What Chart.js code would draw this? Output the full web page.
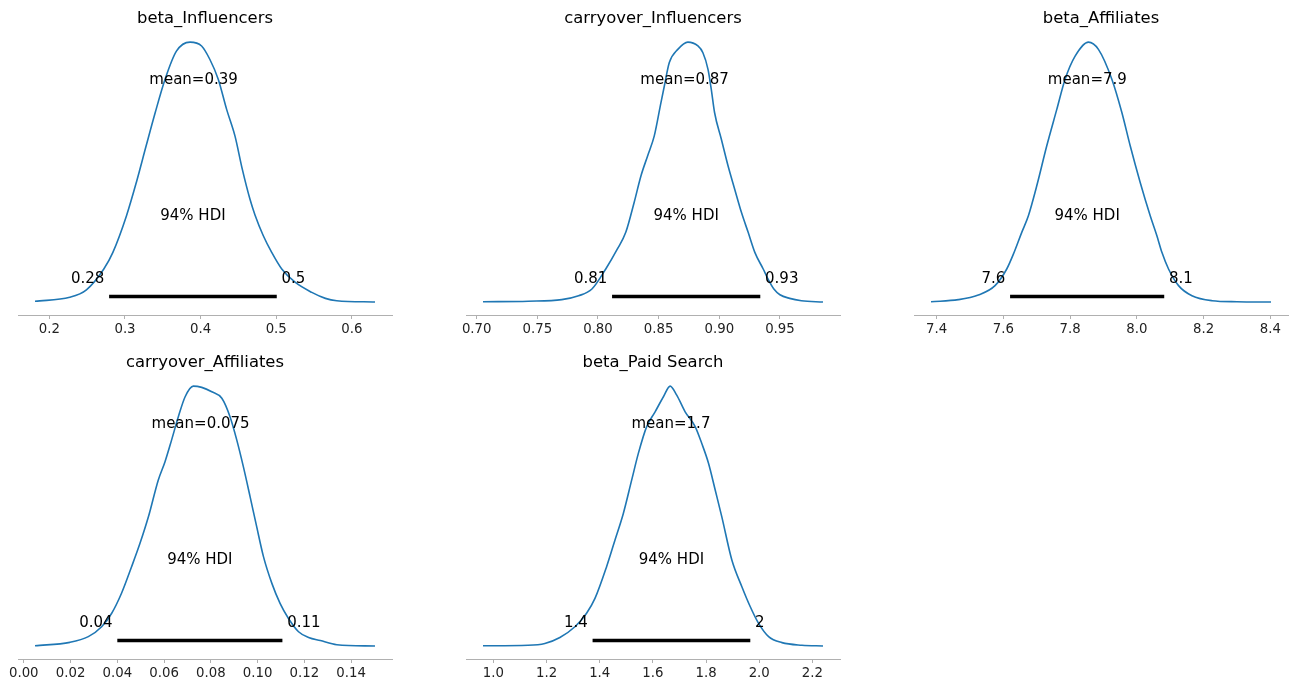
<!DOCTYPE html>
<html>
<head>
<meta charset="utf-8">
<script src="https://cdn.jsdelivr.net/npm/chart.js@4.4.1/dist/chart.umd.min.js"></script>
<style>
  html, body { margin: 0; padding: 0; background: #fff; width: 1298px; height: 683px; overflow: hidden; }
  canvas { position: absolute; }
</style>
</head>
<body>
<canvas id="p0"></canvas>
<canvas id="p1"></canvas>
<canvas id="p2"></canvas>
<canvas id="p3"></canvas>
<canvas id="p4"></canvas>
<script>
// posterior densities, heights relative to each panel's peak

const titles = ['beta_Influencers', 'carryover_Influencers', 'beta_Affiliates', 'carryover_Affiliates', 'beta_Paid Search'];

const betaInfluencersX = [0.181, 0.227, 0.249, 0.272, 0.284, 0.302, 0.315, 0.328, 0.340, 0.353, 0.368, 0.386, 0.4013, 0.4123, 0.4233, 0.4344, 0.4454, 0.4551, 0.4653, 0.4719, 0.4829, 0.4940, 0.5073, 0.5249, 0.5470, 0.565, 0.580, 0.6306];
const betaInfluencersY = [0.003, 0.018, 0.047, 0.127, 0.191, 0.332, 0.460, 0.601, 0.729, 0.857, 0.965, 1.0, 0.985, 0.933, 0.857, 0.741, 0.639, 0.511, 0.395, 0.335, 0.255, 0.191, 0.127, 0.076, 0.037, 0.014, 0.005, 0.0];

const carryInfluencersX = [0.7052, 0.7425, 0.7701, 0.7840, 0.7950, 0.8064, 0.8160, 0.8229, 0.8298, 0.8354, 0.8409, 0.8464, 0.8519, 0.8547, 0.8588, 0.8658, 0.8741, 0.8824, 0.8865, 0.8907, 0.8934, 0.8961, 0.9017, 0.9072, 0.9127, 0.9183, 0.9238, 0.9293, 0.9362, 0.9400, 0.9450, 0.9500, 0.9580, 0.9677, 0.9855];
const carryInfluencersY = [0.001, 0.003, 0.009, 0.024, 0.050, 0.127, 0.204, 0.268, 0.383, 0.485, 0.562, 0.639, 0.767, 0.831, 0.921, 0.972, 1.0, 0.985, 0.959, 0.895, 0.818, 0.729, 0.626, 0.524, 0.434, 0.344, 0.268, 0.191, 0.127, 0.090, 0.050, 0.028, 0.014, 0.005, 0.0];

const betaAffiliatesX = [7.383, 7.4648, 7.5248, 7.5749, 7.6100, 7.6299, 7.6550, 7.6749, 7.7000, 7.7300, 7.7600, 7.7849, 7.8149, 7.8548, 7.8848, 7.9250, 7.9550, 7.9800, 8.0100, 8.0400, 8.0600, 8.0750, 8.0949, 8.1249, 8.1651, 8.2251, 8.30, 8.402];
const betaAffiliatesY = [0.001, 0.009, 0.027, 0.063, 0.127, 0.184, 0.268, 0.332, 0.447, 0.601, 0.741, 0.857, 0.946, 1.0, 0.972, 0.857, 0.729, 0.601, 0.460, 0.332, 0.255, 0.191, 0.127, 0.063, 0.024, 0.005, 0.001, 0.0];

const carryAffiliatesX = [0.0048, 0.0197, 0.0276, 0.0333, 0.0376, 0.0418, 0.0461, 0.0497, 0.0533, 0.0575, 0.0604, 0.0632, 0.0661, 0.0690, 0.0725, 0.0761, 0.0804, 0.0847, 0.0882, 0.0911, 0.0939, 0.0968, 0.0996, 0.1025, 0.1061, 0.1096, 0.1132, 0.1175, 0.1218, 0.1268, 0.1339, 0.1502];
const carryAffiliatesY = [0.001, 0.014, 0.036, 0.074, 0.126, 0.203, 0.305, 0.395, 0.497, 0.638, 0.709, 0.792, 0.882, 0.959, 1.0, 0.995, 0.978, 0.953, 0.882, 0.792, 0.690, 0.574, 0.459, 0.344, 0.241, 0.164, 0.106, 0.055, 0.033, 0.021, 0.005, 0.0];

const betaPaidSearchX = [0.961, 1.1308, 1.1937, 1.2503, 1.3068, 1.3506, 1.3822, 1.4259, 1.4576, 1.4889, 1.5202, 1.5454, 1.5767, 1.6084, 1.6397, 1.6649, 1.6898, 1.7214, 1.7591, 1.7840, 1.8093, 1.8345, 1.8594, 1.8971, 1.9348, 1.9664, 1.9977, 2.0354, 2.0856, 2.1610, 2.240];
const betaPaidSearchY = [0.001, 0.003, 0.010, 0.033, 0.074, 0.126, 0.183, 0.305, 0.408, 0.510, 0.638, 0.741, 0.844, 0.901, 0.959, 1.0, 0.965, 0.901, 0.844, 0.779, 0.703, 0.600, 0.497, 0.331, 0.228, 0.151, 0.087, 0.036, 0.013, 0.003, 0.0];

const meanValues = [0.3907, 0.8714, 7.8515, 0.0756, 1.668];
const meanLabels = ['0.39', '0.87', '7.9', '0.075', '1.7'];
const hdiLow = [0.279, 0.8116, 7.620, 0.0400, 1.3732];
const hdiHigh = [0.5007, 0.9338, 8.082, 0.1106, 1.9665];
const hdiLowLabels = ['0.28', '0.81', '7.6', '0.04', '1.4'];
const hdiHighLabels = ['0.5', '0.93', '8.1', '0.11', '2'];
const tickSteps = [0.1, 0.05, 0.2, 0.02, 0.2];
const tickDecimals = [1, 2, 1, 2, 1];

const seriesX = [betaInfluencersX, carryInfluencersX, betaAffiliatesX, carryAffiliatesX, betaPaidSearchX];
const seriesY = [betaInfluencersY, carryInfluencersY, betaAffiliatesY, carryAffiliatesY, betaPaidSearchY];

// layout of the 2x3 grid (axis line start, row top)
const AXIS_LEFT = [18, 466, 914, 18, 466];
const ROW_TOP = [0, 0, 0, 344, 344];
const AXIS_W = 374, PAD = 20, X_AXIS_H = 26, CANVAS_H = 341;
const Y_MIN = -0.05, Y_MAX = 1.05;
const FONT = '"DejaVu Sans", Verdana, sans-serif';

const annotations = {
    id: 'annotations',
    afterDatasetsDraw(chart, args, opts) {
        const i = opts.index;
        const { ctx } = chart;
        const x = chart.scales.x, y = chart.scales.y;
        ctx.save();
        ctx.fillStyle = '#000';
        ctx.font = '15px ' + FONT;
        ctx.textBaseline = 'alphabetic';
        ctx.textAlign = 'center';
        ctx.fillText('mean=' + meanLabels[i], x.getPixelForValue(meanValues[i]), y.getPixelForValue(0.8 * Y_MAX));
        ctx.fillText('94% HDI', x.getPixelForValue((hdiLow[i] + hdiHigh[i]) / 2), y.getPixelForValue(0.3 * Y_MAX));
        ctx.textAlign = 'right';
        ctx.fillText(hdiLowLabels[i] + ' ', x.getPixelForValue(hdiLow[i]), y.getPixelForValue(0.07 * Y_MAX));
        ctx.textAlign = 'left';
        ctx.fillText(' ' + hdiHighLabels[i], x.getPixelForValue(hdiHigh[i]), y.getPixelForValue(0.07 * Y_MAX));
        ctx.restore();
    }
};

function buildPanel(i) {
    const canvas = document.getElementById('p' + i);
    canvas.width = AXIS_W + 2 * PAD;
    canvas.height = CANVAS_H;
    canvas.style.left = (AXIS_LEFT[i] - PAD) + 'px';
    canvas.style.top = ROW_TOP[i] + 'px';

    const xs = seriesX[i], ys = seriesY[i];
    const span = xs[xs.length - 1] - xs[0];
    const dec = tickDecimals[i];

    return new Chart(canvas.getContext('2d'), {
        type: 'line',
        data: {
            datasets: [
                { data: xs.map((v, k) => ({ x: v, y: ys[k] })), borderColor: '#1f77b4', borderWidth: 1.6, pointRadius: 0, cubicInterpolationMode: 'monotone', fill: false },
                { data: [{ x: hdiLow[i], y: 0.02 * Y_MAX }, { x: hdiHigh[i], y: 0.02 * Y_MAX }], borderColor: '#000', borderWidth: 3.5, borderCapStyle: 'butt', pointRadius: 0, fill: false },
            ],
        },
        options: {
            responsive: false,
            animation: false,
            events: [],
            layout: { padding: { left: PAD, right: PAD, top: 0, bottom: 0 } },
            plugins: {
                legend: { display: false },
                tooltip: { enabled: false },
                title: { display: true, text: titles[i], color: '#000', font: { family: FONT, size: 16.4, weight: 'normal' }, padding: { top: 9.4, bottom: 0 } },
                annotations: { index: i },
            },
            scales: {
                x: {
                    type: 'linear',
                    min: xs[0] - 0.05 * span,
                    max: xs[xs.length - 1] + 0.05 * span,
                    afterFit: s => { s.height = X_AXIS_H; },
                    border: { display: true, color: '#b0b0b0', width: 1 },
                    grid: { display: true, drawOnChartArea: false, drawTicks: true, tickLength: 4, color: '#b0b0b0' },
                    ticks: { stepSize: tickSteps[i], includeBounds: false, autoSkip: false, maxRotation: 0, padding: 3, color: '#222', font: { family: FONT, size: 13.3 }, callback: v => v.toFixed(dec) },
                },
                y: { display: false, min: Y_MIN, max: Y_MAX },
            },
        },
        plugins: [annotations],
    });
}

titles.forEach((_, i) => buildPanel(i));
</script>
</body>
</html>
